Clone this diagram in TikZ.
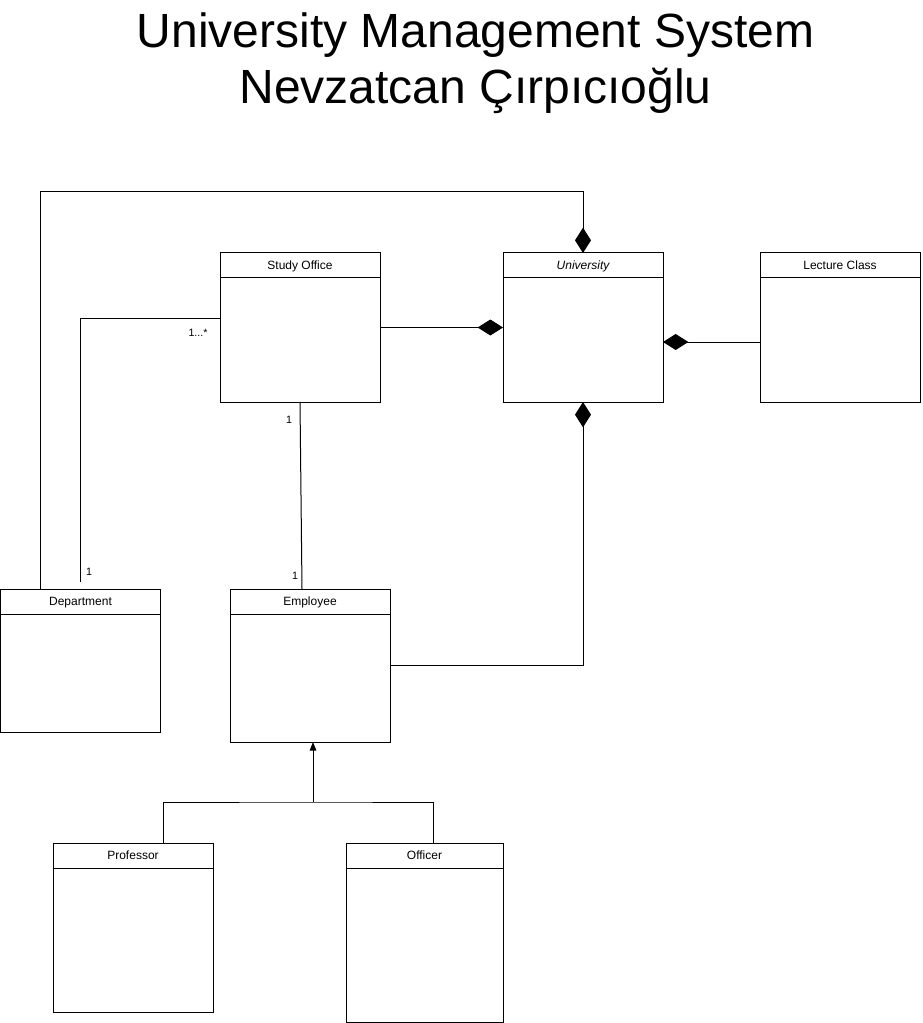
\documentclass[tikz,border=0pt]{standalone}
\usepackage{fontspec}
\setmainfont{Liberation Sans}
\usetikzlibrary{arrows.meta,calc}
\newcommand\umlclass[7]{%
  \node[cls, minimum width=#4*0.75pt, minimum height=#5*0.75pt] (#1) at (#2,#3) {};
  \draw ([yshift=-18.75pt]#1.north west) -- ([yshift=-18.75pt]#1.north east);
  \node[clsname,#7] (#1-name) at ([yshift=-12.6pt]#1.north) {#6};
}
\begin{document}
\begin{tikzpicture}[x=0.75pt,y=-0.75pt, line width=0.75pt,
  cls/.style={draw, inner sep=0pt, outer sep=0pt, anchor=north west},
  clsname/.style={font=\fontsize{9}{11}\selectfont, inner sep=0pt, anchor=base},
  mult/.style={font=\fontsize{8}{10}\selectfont, inner sep=0pt},
  titletext/.style={font=\fontsize{36}{42}\selectfont, inner sep=0pt, anchor=base},
  comp/.style={-{Diamond[length=19pt,width=12pt]}},
  gen/.style={-{Triangle[length=6.5pt,width=5pt]}},
]
\useasboundingbox (0,0) rectangle (922,1023);

\node[titletext] (t1) at (475.5,48) {University Management System};
\node[titletext] (t2) at (475.5,104) {Nevzatcan Çırpıcıoğlu};

\umlclass{study}{220}{253}{160}{149}{Study Office}{}
\umlclass{univ}{503}{253}{160}{149}{University}{font=\fontsize{9}{11}\selectfont\itshape}
\umlclass{lecture}{760}{253}{160}{149}{Lecture Class}{}
\umlclass{dept}{0.5}{589}{160}{143}{Department}{}
\umlclass{emp}{230}{589}{160}{153}{Employee}{}
\umlclass{prof}{53}{843}{160}{169}{Professor}{}
\umlclass{off}{346}{843}{157}{179}{Officer}{}

% Department -> University (composition, top)
\coordinate (topbend) at (583,192);
\draw[comp] ([xshift=30pt]dept.north west) |- (topbend) -- (univ.north);

% Department -- Study Office
\coordinate (deptend) at ([xshift=60pt,yshift=5.25pt]dept.north west);
\draw (deptend) |- ([yshift=-48.75pt]study.north west);

% Study Office -> University
\draw[comp] (study.east) -- (univ.west);
% Lecture Class -> University
\draw[comp] ([yshift=-66.75pt]lecture.north west) -- ([yshift=-66.75pt]univ.north east);
% Employee -> University
\draw[comp] ([yshift=-57pt]emp.north east) -| (univ.south);
% Study Office -- Employee
\draw (study.south) -- ([xshift=-6pt]emp.north);

% Generalization
\coordinate (genmid) at (313,802);
\draw ([xshift=22.5pt]prof.north) |- (genmid) -| ([xshift=6.375pt]off.north);
\draw[gen] (genmid) -- ([xshift=2.25pt]emp.south);

% Multiplicities
\node[mult] (m1) at (198,333) {1...*};
\node[mult] (m2) at (289,420) {1};
\node[mult] (m3) at (89,572) {1};
\node[mult] (m4) at (295,576) {1};
\end{tikzpicture}
\end{document}
